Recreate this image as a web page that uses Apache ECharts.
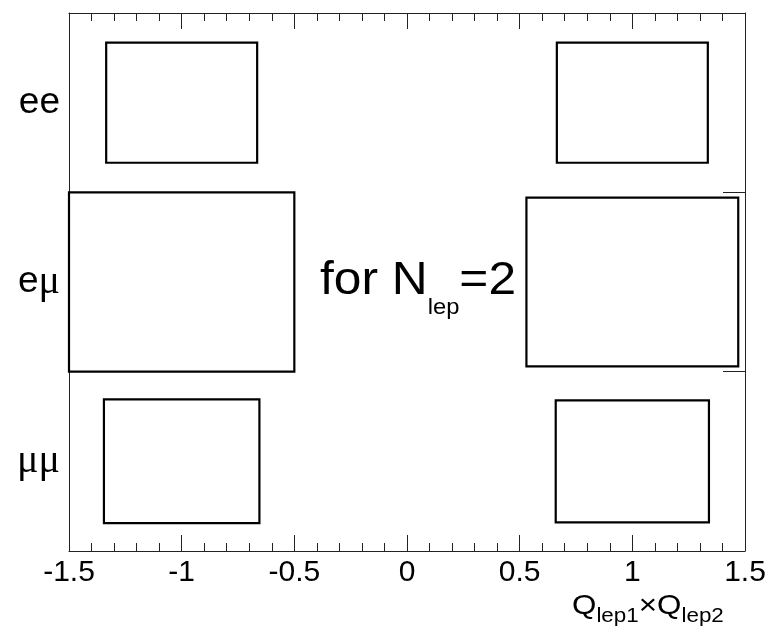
<!DOCTYPE html>
<html>
<head>
<meta charset="utf-8">
<script src="https://cdn.jsdelivr.net/npm/echarts@6/dist/echarts.min.js"></script>
<style>
  html, body { margin: 0; padding: 0; background: #fff; }
  #chart { width: 773px; height: 630px; }
</style>
</head>
<body>
<div id="chart"></div>
<script>
// Lepton-pair channel versus charge product, drawn as a box-style 2D histogram.
const xBinCenters = [-1, 0, 1];
const channels = ['μμ', 'eμ', 'ee'];          // bottom to top
const eeContent   = [0.67, 0, 0.67];
const emuContent  = [1.00, 0, 0.94];
const mumuContent = [0.69, 0, 0.68];
const xTicks = [-1.5, -1, -0.5, 0, 0.5, 1, 1.5];

const SANS = 'Liberation Sans';
const SERIF = 'Liberation Serif';

const rows = [mumuContent, emuContent, eeContent];
const cells = [];
rows.forEach((vals, yi) => {
  vals.forEach((v, xi) => { if (v > 0) cells.push([xBinCenters[xi], yi, v]); });
});
const zMax = Math.max(...cells.map(c => c[2]));

const chart = echarts.init(document.getElementById('chart'), null, { renderer: 'canvas' });

// width measurement for placing subscript fragments
const mctx = document.createElement('canvas').getContext('2d');
function textWidth(str, size, family) {
  mctx.font = size + 'px "' + family + '"';
  return mctx.measureText(str).width;
}
// A run of text pieces on a common baseline, widened horizontally by `stretch`.
// Each piece: [text, fontSize, baselineShift]
function textRun(x0, baseline, stretch, pieces) {
  const children = [];
  let x = 0;
  pieces.forEach(([t, size, dy]) => {
    children.push({
      type: 'text',
      x: x, y: baseline + dy - 0.36 * size,
      style: { text: t, fontSize: size, fontFamily: SANS, fill: '#000', align: 'left', verticalAlign: 'middle' }
    });
    x += textWidth(t, size, SANS);
  });
  return { type: 'group', x: x0, y: 0, scaleX: stretch, children: children };
}

const axisLineStyle = { color: '#222', width: 1 };

function xAxisDef(position, showLabels) {
  return {
    type: 'value', position: position, min: -1.5, max: 1.5, interval: 0.5,
    axisLine: { show: true, onZero: false, lineStyle: axisLineStyle },
    axisTick: { show: true, inside: true, length: 16, lineStyle: axisLineStyle },
    minorTick: { show: true, splitNumber: 5, length: 8, lineStyle: axisLineStyle },
    splitLine: { show: false },
    axisLabel: {
      show: showLabels, fontSize: 30, fontFamily: SANS, color: '#000', margin: 7,
      formatter: v => xTicks.includes(v) ? String(v) : ''
    }
  };
}

const option = {
  animation: false,
  backgroundColor: '#fff',
  grid: { left: 69, right: 28, top: 13, bottom: 79, containLabel: false },
  xAxis: [xAxisDef('bottom', true), xAxisDef('top', false)],
  yAxis: [
    {
      type: 'category', position: 'left', data: channels,
      axisLine: { show: true, onZero: false, lineStyle: axisLineStyle },
      axisTick: { show: false },
      splitLine: { show: false },
      axisLabel: {
        show: true, margin: 9, color: '#000',
        formatter: v => v.split('').map(ch => ch === 'μ' ? '{m|μ}' : '{e|' + ch + '}').join(''),
        rich: {
          e: { fontSize: 37, fontFamily: SANS, color: '#000' },
          m: { fontSize: 40, fontFamily: SERIF, color: '#000' }
        }
      }
    },
    {
      type: 'category', position: 'right', data: channels,
      axisLine: { show: true, onZero: false, lineStyle: axisLineStyle },
      axisTick: { show: true, inside: true, length: 22, lineStyle: axisLineStyle },
      splitLine: { show: false },
      axisLabel: { show: false }
    }
  ],
  series: [{
    type: 'custom',
    xAxisIndex: 0, yAxisIndex: 0,
    data: cells,
    renderItem: (params, api) => {
      const c = api.coord([api.value(0), api.value(1)]);
      const size = api.size([1, 1]);
      const f = api.value(2) / zMax;
      const w = size[0] * f, h = size[1] * f;
      return {
        type: 'rect',
        shape: { x: c[0] - w / 2, y: c[1] - h / 2, width: w, height: h },
        style: { fill: 'none', stroke: '#000', lineWidth: 2.2 }
      };
    }
  }],
  graphic: [
    textRun(320, 298, 1.08, [['for N', 46, 0], ['lep', 22, 18], ['=2', 46, 0]]),
    textRun(572, 616, 1.12, [['Q', 28, 0], ['lep1', 20, 8], ['×', 28, 0], ['Q', 28, 0], ['lep2', 20, 8]])
  ]
};

chart.setOption(option);
</script>
</body>
</html>
